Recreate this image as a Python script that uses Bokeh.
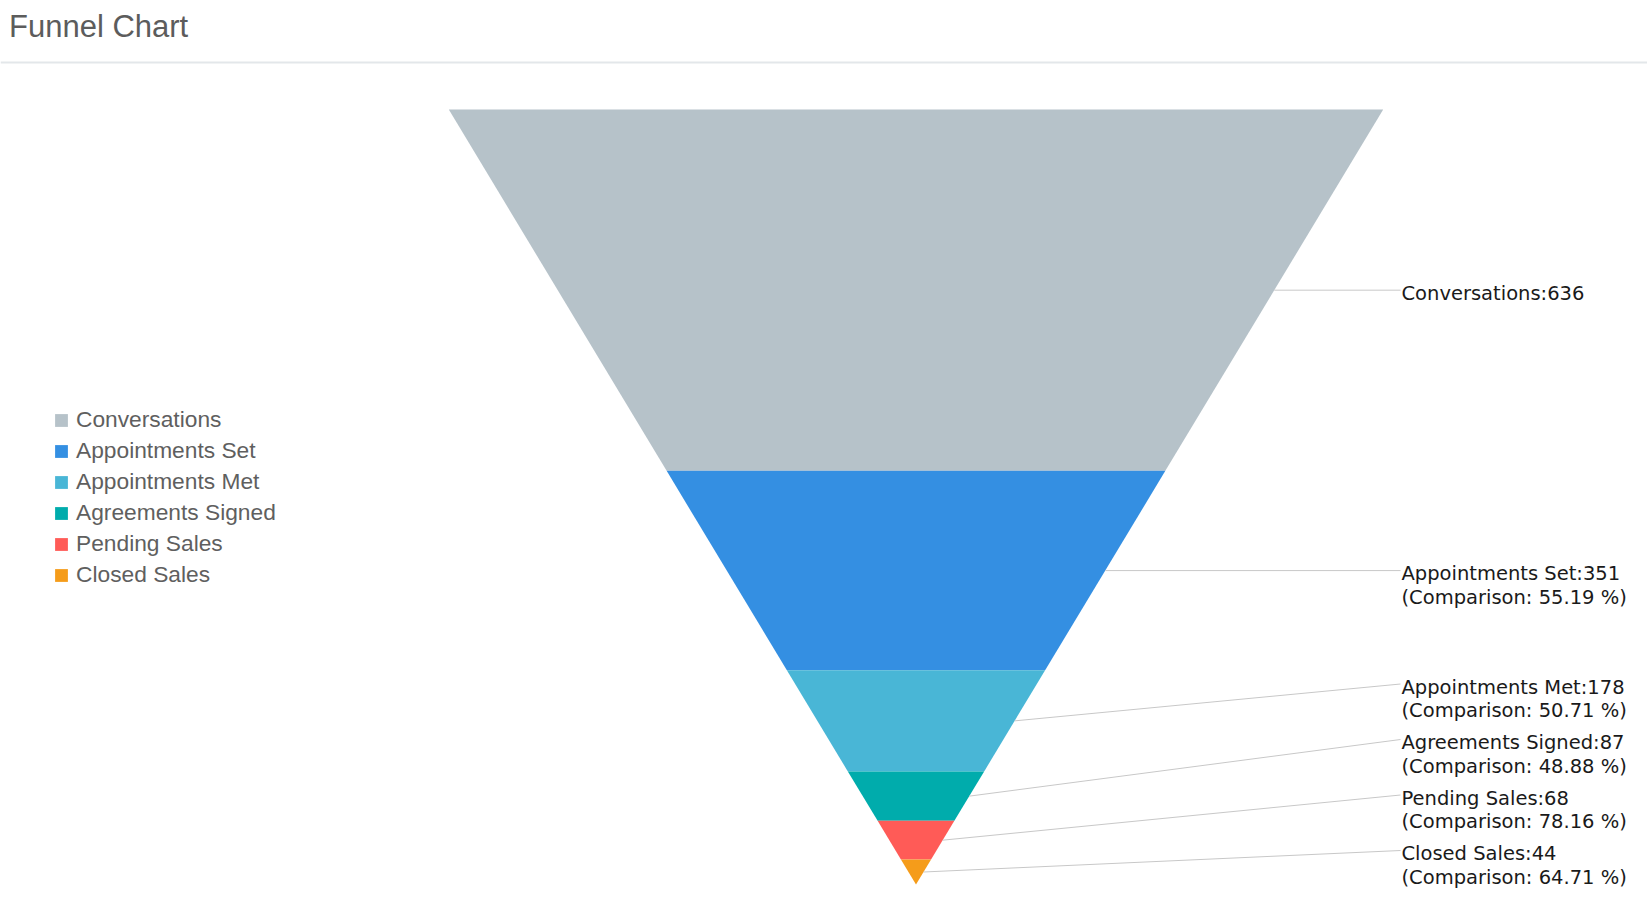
import numpy as np
from bokeh.plotting import figure
from bokeh.models import ColumnDataSource, Range1d, Label, Legend, LegendItem, Span
from bokeh.embed import file_html
from bokeh.resources import INLINE
from bokeh.core.properties import value

# ---- data ----
stages = ["Conversations", "Appointments Set", "Appointments Met",
          "Agreements Signed", "Pending Sales", "Closed Sales"]
counts = [636, 351, 178, 87, 68, 44]
colors = ["#b6c2c9", "#348fe2", "#49b6d6", "#00acac", "#ff5b57", "#f59c1a"]
title_text = "Funnel Chart"

# ---- layout constants (pixels) ----
W, H = 1647, 912
TOP_PX, APEX_PX = 109, 884
CX_PX, HALF_PX = 915.5, 467.2
LABEL_X_PX = 1400
LABEL_BOTTOM_PX = 850
LABEL_PITCH_PX = 55.5
TEXT_DY = 3.3
LINE2_PX = 23.5

total = float(sum(counts))
ppu = (APEX_PX - TOP_PX) / total  # vertical px per value unit

x_range = Range1d(start=-CX_PX / HALF_PX, end=(W - CX_PX) / HALF_PX)
y_range = Range1d(start=(H - TOP_PX) / ppu, end=-TOP_PX / ppu)

p = figure(width=W, height=H, x_range=x_range, y_range=y_range,
           output_backend="svg", toolbar_location=None, min_border=0,
           x_axis_location=None, y_axis_location=None,
           outline_line_color=None, background_fill_color="white",
           border_fill_color="white")
p.grid.visible = False

n = len(counts)
cum = np.concatenate([[0.0], np.cumsum(counts)])


def half(c):
    return (total - c) / total


xs, ys = [], []
for i in range(n):
    c0, c1 = cum[i], cum[i + 1]
    xs.append([-half(c0), half(c0), half(c1), -half(c1)])
    ys.append([c0, c0, c1, c1])

src = ColumnDataSource(dict(xs=xs, ys=ys, color=colors, stage=stages, count=counts))
r = p.patches("xs", "ys", source=src, fill_color="color", line_color=None)

# ---- labels with connectors ----
mids = (cum[:-1] + cum[1:]) / 2.0
mid_px = TOP_PX + mids * ppu
label_px = [0.0] * n
limit = LABEL_BOTTOM_PX
for i in reversed(range(n)):
    y = min(mid_px[i], limit)
    label_px[i] = y
    limit = y - LABEL_PITCH_PX
label_y = [(v - TOP_PX) / ppu for v in label_px]
label_x = (LABEL_X_PX - CX_PX) / HALF_PX

edge_x = [half(m) for m in mids]
p.segment(x0=edge_x, y0=list(mids), x1=[label_x] * n, y1=label_y,
          line_color="#c8c8c8", line_width=1)

line1 = [f"{s}:{c}" for s, c in zip(stages, counts)]
p.text(x=[label_x + 1.0 / HALF_PX] * n, y=label_y, text=line1,
       text_font=value("DejaVu Sans"), text_font_size="19.5px",
       text_color="#1a1a1a", text_baseline="middle", text_align="left",
       y_offset=TEXT_DY)

comp = [f"(Comparison: {counts[i] / counts[i - 1] * 100:.2f} %)" for i in range(1, n)]
p.text(x=[label_x + 1.0 / HALF_PX] * (n - 1), y=label_y[1:], text=comp,
       text_font=value("DejaVu Sans"), text_font_size="19.5px",
       text_color="#1a1a1a", text_baseline="middle", text_align="left",
       y_offset=TEXT_DY + LINE2_PX)

# ---- title and separator ----
p.add_layout(Label(x=8.5, y=H - 25.5, x_units="screen", y_units="screen",
                   text=title_text, text_font="Liberation Sans",
                   text_font_size="31px", text_color="#5c5c5c",
                   text_baseline="alphabetic"))
p.add_layout(Span(location=(62 - TOP_PX) / ppu, dimension="width",
                  line_color="#e3e7ea", line_width=2))

# ---- legend ----
items = [LegendItem(label=s, renderers=[r], index=i) for i, s in enumerate(stages)]
legend = Legend(items=items, location=(53, 322), orientation="vertical",
                glyph_width=16, glyph_height=16, label_standoff=7,
                label_height=31, spacing=0, padding=0, margin=0,
                border_line_color=None, background_fill_alpha=0,
                label_text_font="Liberation Sans", label_text_font_size="22.75px",
                label_text_color="#5f5f5f", label_text_baseline="middle")
p.add_layout(legend)

open("out.html", "w").write(file_html(p, INLINE))
